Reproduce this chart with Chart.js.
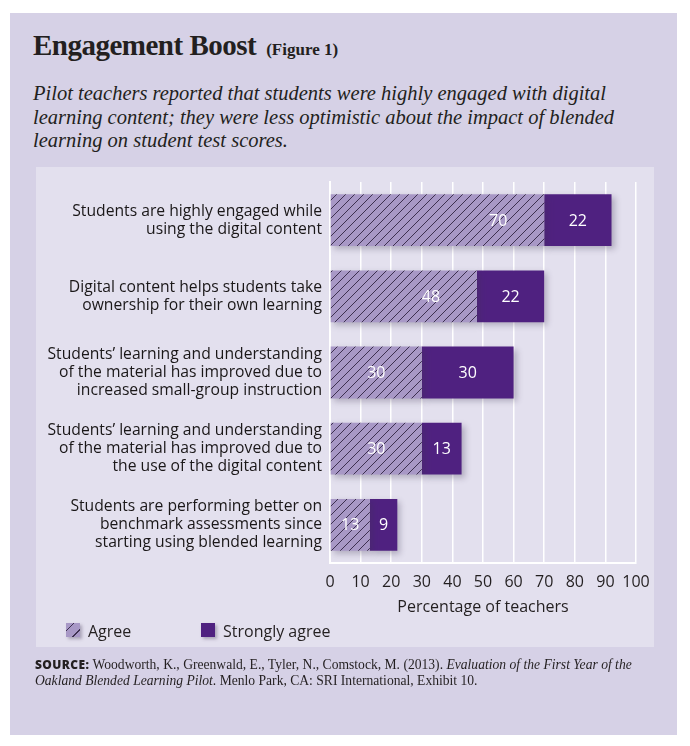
<!DOCTYPE html>
<html>
<head>
<meta charset="utf-8">
<script src="https://cdn.jsdelivr.net/npm/chart.js@4/dist/chart.umd.min.js"></script>
<style>
  html, body { margin:0; padding:0; width:690px; height:746px; overflow:hidden; background:#ffffff; }
  #outer { position:absolute; left:10px; top:13px; width:667px; height:722px; background:#d6d1e6; }
  #inner { position:absolute; left:36px; top:167px; width:618px; height:480px; background:#e3e0ee; }
  #chart { position:absolute; left:0; top:0; }
  .title { position:absolute; left:33px; top:29px; font-family:"Liberation Serif", serif; font-weight:bold; font-size:29px; color:#231f20; white-space:nowrap; letter-spacing:-0.5px; }
  .title small { font-size:17px; margin-left:10px; letter-spacing:0; }
  .sub { position:absolute; left:33px; top:82px; font-family:"Liberation Serif", serif; font-style:italic; font-size:20.5px; line-height:23.5px; color:#231f20; white-space:nowrap; }
  .legend { position:absolute; top:622px; font-family:"Open Sans", sans-serif; font-size:16px; color:#231f20; line-height:18px; white-space:nowrap; }
  .sw { position:absolute; top:623px; width:14px; height:14px; box-shadow:2px 2px 3px rgba(60,50,80,0.35); }
  .src { position:absolute; left:35px; top:657px; font-family:"Liberation Serif", serif; font-size:13.6px; line-height:15.5px; color:#231f20; white-space:nowrap; }
  .src b { font-family:"Open Sans", sans-serif; font-size:12px; font-weight:800; letter-spacing:0.4px; }
</style>
</head>
<body>
<div id="outer"></div>
<div id="inner"></div>
<div class="title">Engagement Boost<small>(Figure 1)</small></div>
<div class="sub">Pilot teachers reported that students were highly engaged with digital<br>learning content; they were less optimistic about the impact of blended<br>learning on student test scores.</div>
<canvas id="chart" width="690" height="746"></canvas>
<div class="sw" style="left:66px;background:repeating-linear-gradient(135deg,#a898c6 0px,#a898c6 5px,#3d3050 5px,#3d3050 6px,#a898c6 6px,#a898c6 9px);"></div>
<div class="legend" style="left:88px;">Agree</div>
<div class="sw" style="left:201px;background:#4f2180;"></div>
<div class="legend" style="left:223px;">Strongly agree</div>
<div class="src"><b>SOURCE:</b> Woodworth, K., Greenwald, E., Tyler, N., Comstock, M. (2013). <i>Evaluation of the First Year of the</i><br><i>Oakland Blended Learning Pilot</i>. Menlo Park, CA: SRI International, Exhibit 10.</div>

<script>
const categories = [
  ["Students are highly engaged while", "using the digital content"],
  ["Digital content helps students take", "ownership for their own learning"],
  ["Students\u2019 learning and understanding", "of the material has improved due to", "increased small-group instruction"],
  ["Students\u2019 learning and understanding", "of the material has improved due to", "the use of the digital content"],
  ["Students are performing better on", "benchmark assessments since", "starting using blended learning"]
];
const seriesNames = ["Agree", "Strongly agree"];
const agreeValues = [70, 48, 30, 30, 13];
const stronglyAgreeValues = [22, 22, 30, 13, 9];
const xTickValues = [0, 10, 20, 30, 40, 50, 60, 70, 80, 90, 100];
const xAxisTitle = "Percentage of teachers";

function hatchPattern() {
  const s = 9;
  const c = document.createElement('canvas');
  c.width = s; c.height = s;
  const g = c.getContext('2d');
  g.fillStyle = '#a898c6';
  g.fillRect(0, 0, s, s);
  g.strokeStyle = '#3d3050';
  g.lineWidth = 1;
  g.beginPath();
  g.moveTo(0, s); g.lineTo(s, 0);
  g.moveTo(-1, 1); g.lineTo(1, -1);
  g.moveTo(s - 1, s + 1); g.lineTo(s + 1, s - 1);
  g.stroke();
  return document.getElementById('chart').getContext('2d').createPattern(c, 'repeat');
}

const shadowPlugin = {
  id: 'barShadow',
  beforeDatasetDraw(chart) {
    const ctx = chart.ctx;
    ctx.save();
    ctx.shadowColor = 'rgba(60,50,80,0.30)';
    ctx.shadowBlur = 6;
    ctx.shadowOffsetX = 3;
    ctx.shadowOffsetY = 3;
  },
  afterDatasetDraw(chart) {
    chart.ctx.restore();
  }
};

const valueLabels = {
  id: 'valueLabels',
  afterDatasetsDraw(chart) {
    const ctx = chart.ctx;
    ctx.save();
    ctx.fillStyle = '#ffffff';
    ctx.font = '16px "Open Sans", sans-serif';
    ctx.textAlign = 'center';
    ctx.textBaseline = 'middle';
    chart.data.datasets.forEach((ds, di) => {
      const meta = chart.getDatasetMeta(di);
      meta.data.forEach((bar, i) => {
        const p = bar.getProps(['x', 'y', 'base'], true);
        const mid = (p.x + p.base) / 2;
        const cx = di === 0 ? Math.max(mid, p.x - 46) : mid;
        ctx.fillText(String(ds.data[i]), cx, p.y + 1);
      });
    });
    ctx.restore();
  }
};

new Chart(document.getElementById('chart'), {
  type: 'bar',
  data: {
    labels: categories,
    datasets: [
      { label: seriesNames[0], data: agreeValues, backgroundColor: hatchPattern(), borderWidth: 0 },
      { label: seriesNames[1], data: stronglyAgreeValues, backgroundColor: '#4f2180', borderWidth: 0 }
    ]
  },
  options: {
    indexAxis: 'y',
    responsive: false,
    animation: false,
    devicePixelRatio: 1,
    categoryPercentage: 1,
    barPercentage: 0.68,
    layout: { padding: { left: 0, right: 54, top: 182, bottom: 123 } },
    plugins: { legend: { display: false }, tooltip: { enabled: false } },
    scales: {
      x: {
        stacked: true,
        min: 0, max: 100,
        afterBuildTicks(scale) { scale.ticks = xTickValues.map(v => ({ value: v })); },
        afterFit(scale) { scale.height = 60; },
        grid: { color: '#ffffff', lineWidth: 1.5, drawTicks: false },
        border: { display: true, color: '#ffffff', width: 2 },
        ticks: { color: '#231f20', font: { family: '"Open Sans", sans-serif', size: 16 }, padding: 10, maxRotation: 0, minRotation: 0, autoSkip: false },
        title: { display: true, text: xAxisTitle, color: '#231f20', font: { family: '"Open Sans", sans-serif', size: 16 }, padding: { top: 0, bottom: 6 } }
      },
      y: {
        stacked: true,
        afterFit(scale) { scale.width = 330; },
        grid: { display: false, drawTicks: false },
        border: { display: true, color: '#ffffff', width: 2 },
        ticks: { color: '#1a1718', font: { family: '"Open Sans", sans-serif', size: 15.7, lineHeight: 1.15 }, padding: 8 }
      }
    }
  },
  plugins: [shadowPlugin, valueLabels]
});
</script>
</body>
</html>
